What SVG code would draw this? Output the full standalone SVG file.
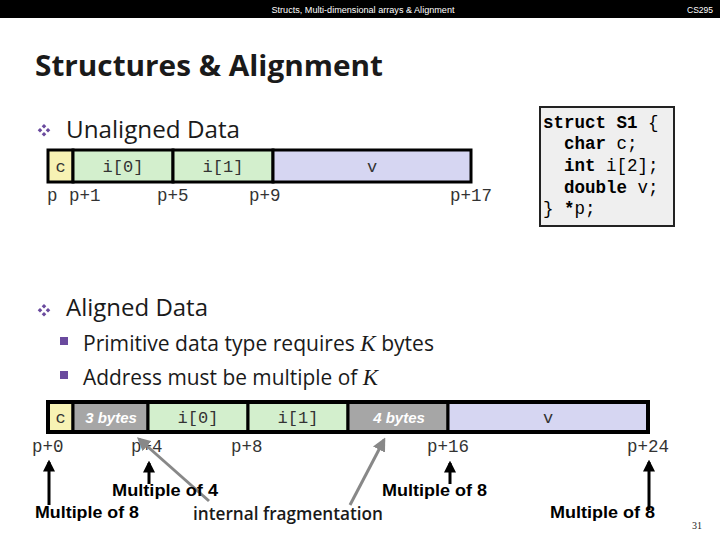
<svg xmlns="http://www.w3.org/2000/svg" width="720" height="540" viewBox="0 0 720 540">
<defs>
<marker id="ab" viewBox="0 0 10 10" refX="8" refY="5" markerWidth="4" markerHeight="4" orient="auto" markerUnits="strokeWidth"><path d="M0,0 L10,5 L0,10 z" fill="#000"/></marker>
<marker id="ag" viewBox="0 0 10 10" refX="8" refY="5" markerWidth="4.5" markerHeight="4.5" orient="auto" markerUnits="strokeWidth"><path d="M0,0 L10,5 L0,10 z" fill="#888"/></marker>
<style>
.mono{font-family:"Liberation Mono","Courier New",monospace;font-size:17px;fill:#333}
.addr{font-family:"Liberation Mono","Courier New",monospace;font-size:17.5px;fill:#333}
.code{font-family:"Liberation Mono","Courier New",monospace;font-size:17.5px;fill:#000}
.cb{font-weight:bold}
.cell{stroke:#000;stroke-width:3}
.ch{fill:#f7f2b4}.in{fill:#d3efcd}.db{fill:#d6d6f2}.pad{fill:#a6a6a6}
.padt{font-family:"Liberation Sans",Arial,sans-serif;font-weight:bold;font-style:italic;font-size:15px;fill:#fff}
.mult{font-family:"Liberation Sans",Arial,sans-serif;font-weight:bold;font-size:16.5px;fill:#000}
.body{font-family:"Open Sans","Noto Sans",sans-serif;fill:#1a1a1a}
.blk{stroke:#000;stroke-width:3;fill:none}
.gry{stroke:#888;stroke-width:3;fill:none}
</style>
</defs>
<rect x="0" y="0" width="720" height="540" fill="#fff"/>
<g id="header">
<rect x="0" y="0" width="720" height="18" fill="#000"/>
<text x="363" y="12.5" text-anchor="middle" font-family="Liberation Sans,Arial,sans-serif" font-size="8.5" fill="#fff" textLength="183" lengthAdjust="spacingAndGlyphs">Structs, Multi-dimensional arrays &amp; Alignment</text>
<text x="700" y="12.5" text-anchor="middle" font-family="Liberation Sans,Arial,sans-serif" font-size="8.5" fill="#fff">CS295</text>
</g>
<g id="title">
<text x="35" y="76" class="body" font-weight="bold" font-size="29" fill="#000" textLength="348" lengthAdjust="spacingAndGlyphs">Structures &amp; Alignment</text>
</g>
<g id="bullets">
<g fill="#6a4a9e">
<path d="M44,124 l2.3,2.3 l-2.3,2.3 l-2.3,-2.3z M40,128 l2.3,2.3 l-2.3,2.3 l-2.3,-2.3z M48,128 l2.3,2.3 l-2.3,2.3 l-2.3,-2.3z M44,132 l2.3,2.3 l-2.3,2.3 l-2.3,-2.3z"/>
<path d="M44,304 l2.3,2.3 l-2.3,2.3 l-2.3,-2.3z M40,308 l2.3,2.3 l-2.3,2.3 l-2.3,-2.3z M48,308 l2.3,2.3 l-2.3,2.3 l-2.3,-2.3z M44,312 l2.3,2.3 l-2.3,2.3 l-2.3,-2.3z"/>
<rect x="60" y="337" width="8" height="8"/>
<rect x="60" y="371" width="8" height="8"/>
</g>
<text x="66" y="138" class="body" font-size="24" textLength="174" lengthAdjust="spacingAndGlyphs">Unaligned Data</text>
<text x="66" y="316" class="body" font-size="24" textLength="142" lengthAdjust="spacingAndGlyphs">Aligned Data</text>
<text x="83" y="351" class="body" font-size="21" textLength="351" lengthAdjust="spacingAndGlyphs">Primitive data type requires <tspan font-family="Liberation Serif,serif" font-style="italic" font-size="23">K</tspan> bytes</text>
<text x="83" y="385" class="body" font-size="21" textLength="295" lengthAdjust="spacingAndGlyphs">Address must be multiple of <tspan font-family="Liberation Serif,serif" font-style="italic" font-size="23">K</tspan></text>
</g>
<g id="struct-code">
<rect x="540" y="107" width="134" height="119" fill="#efefef" stroke="#222" stroke-width="2"/>
<text x="543" y="128" class="code"><tspan class="cb">struct S1</tspan> {</text>
<text x="564" y="149" class="code"><tspan class="cb">char</tspan> c;</text>
<text x="564" y="171" class="code"><tspan class="cb">int</tspan> i[2];</text>
<text x="564" y="193" class="code"><tspan class="cb">double</tspan> v;</text>
<text x="543" y="214" class="code">} <tspan class="cb">*</tspan>p;</text>
</g>
<g id="unaligned">
<g id="u-c"><rect x="48" y="150" width="25" height="32" class="cell ch"/><text x="60.5" y="172" text-anchor="middle" class="mono">c</text></g>
<g id="u-i0"><rect x="73" y="150" width="100" height="32" class="cell in"/><text x="123" y="172" text-anchor="middle" class="mono">i[0]</text></g>
<g id="u-i1"><rect x="173" y="150" width="100" height="32" class="cell in"/><text x="223" y="172" text-anchor="middle" class="mono">i[1]</text></g>
<g id="u-v"><rect x="273" y="150" width="198" height="32" class="cell db"/><text x="372" y="172" text-anchor="middle" class="mono">v</text></g>
<text x="47" y="201" class="addr">p</text>
<text x="69" y="201" class="addr">p+1</text>
<text x="157" y="201" class="addr">p+5</text>
<text x="249" y="201" class="addr">p+9</text>
<text x="450" y="201" class="addr">p+17</text>
</g>
<g id="aligned">
<g id="a-c"><rect x="48" y="402" width="25" height="30" class="cell ch"/><text x="60.5" y="423" text-anchor="middle" class="mono">c</text></g>
<g id="a-pad3"><rect x="73" y="402" width="75" height="30" class="cell pad"/><text x="111" y="423" text-anchor="middle" class="padt">3 bytes</text></g>
<g id="a-i0"><rect x="148" y="402" width="100" height="30" class="cell in"/><text x="198" y="423" text-anchor="middle" class="mono">i[0]</text></g>
<g id="a-i1"><rect x="248" y="402" width="100" height="30" class="cell in"/><text x="298" y="423" text-anchor="middle" class="mono">i[1]</text></g>
<g id="a-pad4"><rect x="348" y="402" width="100" height="30" class="cell pad"/><text x="399" y="423" text-anchor="middle" class="padt">4 bytes</text></g>
<g id="a-v"><rect x="448" y="402" width="200" height="30" class="cell db"/><text x="548" y="423" text-anchor="middle" class="mono">v</text></g>
<rect x="48" y="402" width="600" height="30" fill="none" stroke="#000" stroke-width="4"/>
<text x="32" y="452" class="addr">p+0</text>
<text x="131" y="452" class="addr">p+4</text>
<text x="231" y="452" class="addr">p+8</text>
<text x="427" y="452" class="addr">p+16</text>
<text x="627" y="452" class="addr">p+24</text>
</g>
<g id="connectors">
<line x1="49" y1="505" x2="49" y2="462" class="blk" marker-end="url(#ab)"/>
<line x1="149" y1="484" x2="149" y2="463" class="blk" marker-end="url(#ab)"/>
<line x1="450" y1="484" x2="450" y2="463" class="blk" marker-end="url(#ab)"/>
<line x1="649" y1="510" x2="649" y2="462" class="blk" marker-end="url(#ab)"/>
<line x1="209" y1="501" x2="139" y2="439" class="gry" marker-end="url(#ag)"/>
<line x1="350" y1="505" x2="384" y2="440" class="gry" marker-end="url(#ag)"/>
</g>
<g id="labels">
<text x="112" y="496" class="mult" textLength="106" lengthAdjust="spacingAndGlyphs">Multiple of 4</text>
<text x="35" y="518" class="mult" textLength="104" lengthAdjust="spacingAndGlyphs">Multiple of 8</text>
<text x="382" y="496" class="mult" textLength="105" lengthAdjust="spacingAndGlyphs">Multiple of 8</text>
<text x="550" y="518" class="mult" textLength="105" lengthAdjust="spacingAndGlyphs">Multiple of 8</text>
<text x="193" y="520" class="body" font-size="18" fill="#808080" textLength="190" lengthAdjust="spacingAndGlyphs" font-weight="600">internal fragmentation</text>
<text x="697" y="529" text-anchor="middle" font-family="Liberation Serif,serif" font-size="10" fill="#222">31</text>
</g>
</svg>
